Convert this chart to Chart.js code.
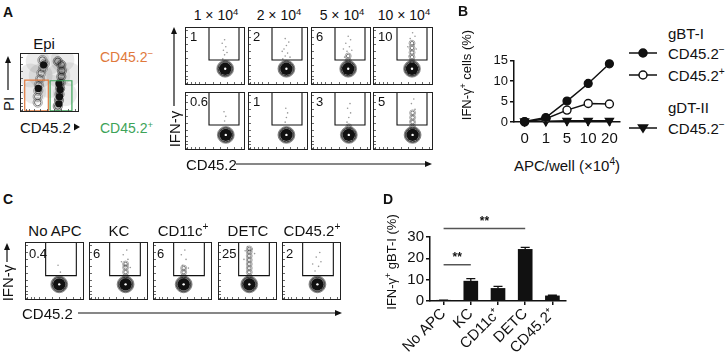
<!DOCTYPE html>
<html><head><meta charset="utf-8">
<script src="https://cdn.jsdelivr.net/npm/chart.js@4.4.1/dist/chart.umd.min.js"></script>
<style>
body{margin:0;background:#fff;}
#root{position:relative;width:728px;height:362px;overflow:hidden;font-family:"Liberation Sans",Arial,sans-serif;color:#111;background:#fff;}
.t{position:absolute;white-space:nowrap;line-height:1;}
canvas{position:absolute;}
svg{position:absolute;left:0;top:0;}
</style></head>
<body><div id="root"></div>
<script>
// ---------------- DATA ----------------
// Panel A
const aHeaders = ['1', '2', '5', '10'];          // × 10^4 APC per well
const aPctNeg = ['1', '2', '6', '10'];            // CD45.2− row gate %
const aPctPos = ['0.6', '1', '3', '5'];           // CD45.2+ row gate %
const aCoreXNeg = [67, 64, 62, 65];
const aCoreXPos = [68, 64, 63, 66];
const aTailNeg = [[], [], [42, 50], [40, 48, 56, 64, 72]];
const aTailPos = [[], [], [40], [40, 48, 56, 64]];
const aDotsNeg = [
  [[63,45],[66,52],[64,60],[68,66],[62,72],[66,78],[70,56]],
  [[58,45],[62,50],[66,55],[60,62],[64,68],[68,74],[62,80],[57,58],[70,48]],
  [[56,48],[60,58],[64,66],[58,72],[66,78],[62,84],[54,62],[68,60]],
  [[60,50],[64,60],[68,70],[62,80],[70,84],[58,66],[66,90],[72,62]]
];
const aDotsPos = [
  [[66,50],[68,58],[65,66]],
  [[62,48],[64,56],[66,64],[63,72]],
  [[60,48],[63,56],[66,64],[61,72],[65,80]],
  [[62,50],[66,60],[70,70],[64,80],[68,88]]
];
const aGate = [40, 90, 43];                       // x0, x1, y0 (to top)
const epiCloud = [[35,62],[65,62],[50,84],[24,34],[76,30],[50,44],[18,62],[84,64],[30,86],[72,88]];
const epiLeft = [[30,16],[30,26],[31,36],[32,46],[34,56],[36,66],[39,74],[42,82],[38,88]];
const epiRight = [[64,10],[66,20],[67,30],[68,40],[69,50],[70,60],[71,70],[70,80],[64,86]];
const epiDark = [[40,80],[66,14],[67,26],[68,38],[66,48],[31,40]];
const epiOrangeGate = [8, 48, 2, 54];
const epiGreenGate = [51, 88, 2, 53];
const facsTickValues = [4, 10, 16, 24, 34, 46, 58, 70, 82, 94];

// Panel B
const bCategories = ['0', '1', '5', '10', '20'];
const bGbtNeg = [0.1, 1.1, 5.1, 9.4, 14.2];
const bGbtPos = [0.0, 0.8, 2.9, 4.5, 4.4];
const bGdtNeg = [0.2, 0.2, 0.3, 0.3, 0.3];
const bYTicks = [0, 5, 10, 15];

// Panel C
const cTitles = ['No APC', 'KC', 'CD11c+', 'DETC', 'CD45.2+'];
const cPct = ['0.4', '6', '6', '25', '2'];
const cCoreX = [58, 62, 52, 53, 60];
const cTail = [[], [40, 48, 56, 62], [40, 48, 55], [40, 48, 55, 62, 69, 76, 83, 88], []];
const cDots = [
  [[60,48],[56,60]],
  [[60,60],[66,70],[58,78],[64,86],[70,56],[55,66]],
  [[50,60],[56,70],[48,78],[54,86],[60,55]],
  [[46,85],[58,88],[50,92],[62,80],[44,70]],
  [[56,50],[62,58],[66,66],[58,74],[64,82],[52,62]]
];
const cGate = [35, 87, 42];

// Panel D
const dCategories = ['No APC', 'KC', 'CD11c⁺', 'DETC', 'CD45.2⁺'];
const dMeans = [0.3, 9.3, 5.9, 24.2, 2.4];
const dErrors = [0.1, 1.2, 1.0, 0.9, 0.3];
const dYTicks = [0, 10, 20, 30];
const dSig = [[0, 1, 17, '**'], [0, 3, 34, '**']];

// ---------------- HELPERS ----------------
const root = document.getElementById('root');
Chart.defaults.font.family = '"Liberation Sans", Arial, sans-serif';
Chart.defaults.color = '#111';
const sup = s => `<span style="font-size:0.68em;vertical-align:0.55em;line-height:0">${s}</span>`;
function T(html, x, y, o = {}) {
  const d = document.createElement('div');
  d.className = 't';
  d.innerHTML = html;
  d.style.fontSize = (o.size || 14) + 'px';
  if (o.bold) d.style.fontWeight = 'bold';
  if (o.color) d.style.color = o.color;
  d.style.left = x + 'px'; d.style.top = y + 'px';
  let tr = o.left ? 'translate(0,-50%)' : 'translate(-50%,-50%)';
  if (o.rot) tr += ' rotate(-90deg)';
  d.style.transform = tr;
  root.appendChild(d);
}
function mk(l, t, w, h) {
  const c = document.createElement('canvas');
  c.width = w; c.height = h;
  c.style.left = l + 'px'; c.style.top = t + 'px';
  c.style.width = w + 'px'; c.style.height = h + 'px';
  root.appendChild(c);
  return c;
}
const P = a => a.map(p => ({x: p[0], y: p[1]}));
const framePlugin = {
  id: 'frame',
  afterDraw(chart) {
    const a = chart.chartArea, ctx = chart.ctx;
    const sx = chart.scales.x, sy = chart.scales.y;
    ctx.save(); ctx.strokeStyle = '#222'; ctx.lineWidth = 1;
    ctx.strokeRect(a.left + 0.5, a.top + 0.5, a.width - 1, a.height - 1);
    ctx.lineWidth = 0.8; ctx.strokeStyle = '#444';
    ctx.beginPath();
    facsTickValues.forEach(v => {
      const px = Math.round(sx.getPixelForValue(v)) + 0.5;
      ctx.moveTo(px, a.bottom - 1); ctx.lineTo(px, a.bottom - 3);
      const py = Math.round(sy.getPixelForValue(v)) + 0.5;
      ctx.moveTo(a.left + 1, py); ctx.lineTo(a.left + 3, py);
    });
    ctx.stroke();
    ctx.restore();
  }
};
const facsOpts = {
  responsive: false, animation: false, events: [], devicePixelRatio: 1,
  layout: {padding: 0, autoPadding: false},
  plugins: {legend: {display: false}, tooltip: {enabled: false}},
  scales: {x: {type: 'linear', min: 0, max: 100, display: false},
           y: {type: 'linear', min: 0, max: 100, display: false}}
};
const RINGS = [8.4, 7.6, 6.9];
const RING_COLORS = ['#777', '#444', '#222'];
const TAIL_RINGS = [3, 1.8];
function facs(l, t, w, h, cx, cy, tail, dots, gate) {
  const ds = [];
  ds.push({data: P([[gate[0],100],[gate[0],gate[2]],[gate[1],gate[2]],[gate[1],100]]),
    showLine: true, borderColor: '#111', borderWidth: 1.1, pointRadius: 0, order: 1});
  ds.push({data: [{x: cx, y: cy}], pointRadius: 1.2, pointBackgroundColor: '#fff', pointBorderWidth: 0, order: 2});
  ds.push({data: [{x: cx, y: cy}], pointRadius: 6.2, pointBackgroundColor: '#111', pointBorderWidth: 0, order: 3});
  ds.push({data: RINGS.map(() => ({x: cx, y: cy})), pointRadius: RINGS, pointBackgroundColor: 'rgba(0,0,0,0.1)',
    pointBorderColor: RING_COLORS, pointBorderWidth: 0.8, order: 4});
  const tp = tail.map(y => ({x: cx, y}));
  TAIL_RINGS.forEach((r, i) => ds.push({data: tp, pointRadius: r, pointBackgroundColor: 'rgba(0,0,0,0)',
    pointBorderColor: i ? '#444' : '#888', pointBorderWidth: 0.7, order: 5 + i}));
  ds.push({data: P(dots), pointRadius: 0.8, pointBackgroundColor: '#999', pointBorderWidth: 0, order: 10});
  new Chart(mk(l, t, w, h), {type: 'scatter', data: {datasets: ds}, options: facsOpts, plugins: [framePlugin]});
}

// ---------------- PANEL A ----------------
T('A', 3, 12, {bold: true, size: 14, left: true});
T('Epi', 44, 43, {size: 15});
T('PI', 8, 104, {size: 15, rot: true});
T('CD45.2', 20, 127, {size: 15, left: true});
T('CD45.2' + sup('−'), 100, 57, {size: 14, left: true, color: '#E0793C'});
T('CD45.2' + sup('+'), 100, 128, {size: 14, left: true, color: '#3DA358'});

(function epi() {
  const ds = [];
  const rect = g => P([[g[0],g[2]],[g[1],g[2]],[g[1],g[3]],[g[0],g[3]],[g[0],g[2]]]);
  ds.push({data: rect(epiOrangeGate), showLine: true, borderColor: '#E0793C', borderWidth: 1.2, pointRadius: 0, order: 1});
  ds.push({data: rect(epiGreenGate), showLine: true, borderColor: '#3DA358', borderWidth: 1.2, pointRadius: 0, order: 1});
  ds.push({data: P(epiDark), pointRadius: 3.6, pointBackgroundColor: '#111', pointBorderWidth: 0, order: 2});
  [4.6, 3.2].forEach((r, i) => {
    ds.push({data: P(epiLeft), pointRadius: r, pointBackgroundColor: 'rgba(0,0,0,0)', pointBorderColor: i ? '#333' : '#777', pointBorderWidth: 0.7, order: 3 + i});
    ds.push({data: P(epiRight), pointRadius: r, pointBackgroundColor: 'rgba(0,0,0,0.12)', pointBorderColor: i ? '#222' : '#555', pointBorderWidth: 0.7, order: 3 + i});
  });
  ds.push({data: P(epiCloud), pointRadius: 12, pointBackgroundColor: 'rgba(0,0,0,0.08)', pointBorderWidth: 0, order: 20});
  new Chart(mk(20, 53, 59, 59), {type: 'scatter', data: {datasets: ds}, options: facsOpts, plugins: [framePlugin]});
})();

const aLefts = [185, 248, 311, 373];
aHeaders.forEach((h, i) => T(h + ' × 10' + sup('4'), aLefts[i] + 31, 15, {size: 14}));
aLefts.forEach((l, i) => {
  facs(l, 27, 60, 58, aCoreXNeg[i], 28, aTailNeg[i], aDotsNeg[i], aGate);
  facs(l, 92, 60, 58, aCoreXPos[i], 26, aTailPos[i], aDotsPos[i], aGate);
  T(aPctNeg[i], l + 5, 36, {size: 13, left: true});
  T(aPctPos[i], l + 5, 101, {size: 13, left: true});
});
T('IFN-γ', 174, 129, {size: 15, rot: true});
T('CD45.2', 186, 164, {size: 15, left: true});

// ---------------- PANEL B ----------------
T('B', 458, 11, {bold: true, size: 14, left: true});
T('IFN-γ' + sup('+') + ' cells (%)', 466, 75, {size: 13, rot: true});
T('APC/well (×10' + sup('4') + ')', 567, 165, {size: 15});
T('gBT-I', 668, 33, {size: 15, left: true});
T('CD45.2' + sup('−'), 668, 53, {size: 15, left: true});
T('CD45.2' + sup('+'), 668, 75, {size: 15, left: true});
T('gDT-II', 668, 107, {size: 15, left: true});
T('CD45.2' + sup('−'), 668, 128, {size: 15, left: true});

const tickOpts = extra => Object.assign({color: '#111', font: {size: 15}, padding: 2, autoSkip: false}, extra || {});
const gridOpts = {display: true, drawOnChartArea: false, drawTicks: true, tickLength: 4, color: '#111', lineWidth: 1.5};
const borderOpts = {color: '#111', width: 1.5};

new Chart(mk(470, 52, 160, 100), {
  type: 'line',
  data: {labels: bCategories, datasets: [
    {data: bGbtNeg, borderColor: '#111', borderWidth: 1.5, pointRadius: 4, pointBackgroundColor: '#111', pointBorderColor: '#111', pointBorderWidth: 1.2, clip: false},
    {data: bGbtPos, borderColor: '#111', borderWidth: 1.5, pointRadius: 4, pointBackgroundColor: '#fff', pointBorderColor: '#111', pointBorderWidth: 1.4, clip: false},
    {data: bGdtNeg, borderColor: '#111', borderWidth: 1.5, pointStyle: 'triangle', rotation: 180, pointRadius: 4.5, pointBackgroundColor: '#111', pointBorderColor: '#111', clip: false}
  ]},
  options: {
    responsive: false, animation: false, events: [], devicePixelRatio: 1,
    layout: {padding: {top: 5, right: 10, left: 0, bottom: 0}, autoPadding: false},
    plugins: {legend: {display: false}, tooltip: {enabled: false}},
    scales: {
      x: {offset: true, grid: gridOpts, border: borderOpts,
        ticks: tickOpts({padding: 4, maxRotation: 0}),
        afterFit: s => { s.height = 30; }},
      y: {min: bYTicks[0], max: bYTicks[bYTicks.length - 1], grid: gridOpts, border: borderOpts,
        ticks: tickOpts({count: bYTicks.length, font: {size: 13, lineHeight: 1}, autoSkipPadding: 0}),
        afterFit: s => { s.width = 44; }}
    }
  }
});

// ---------------- PANEL C ----------------
T('C', 3, 199, {bold: true, size: 14, left: true});
const cLefts = [25, 89, 153, 218, 282];
cLefts.forEach((l, i) => {
  const t = cTitles[i].replace('+', '');
  T(cTitles[i].endsWith('+') ? t + sup('+') : t, l + 30, 230, {size: 15});
  facs(l, 242, 59, 58, cCoreX[i], 27, cTail[i], cDots[i], cGate);
  T(cPct[i], l + 4, 253, {size: 13, left: true});
});
T('IFN-γ', 7, 283, {size: 15, rot: true});
T('CD45.2', 22, 313, {size: 15, left: true});

// ---------------- PANEL D ----------------
T('D', 383, 199, {bold: true, size: 14, left: true});
T('IFN-γ' + sup('+') + ' gBT-I (%)', 391, 262, {size: 13, rot: true});
const dPlugin = {
  id: 'dExtras',
  afterDatasetsDraw(chart) {
    const ctx = chart.ctx, y = chart.scales.y, x = chart.scales.x;
    const meta = chart.getDatasetMeta(0);
    ctx.save();
    ctx.strokeStyle = '#111'; ctx.lineWidth = 1.3;
    meta.data.forEach((bar, i) => {
      const top = y.getPixelForValue(dMeans[i] + dErrors[i]);
      ctx.beginPath();
      ctx.moveTo(bar.x, bar.y); ctx.lineTo(bar.x, top);
      ctx.moveTo(bar.x - 4.5, top); ctx.lineTo(bar.x + 4.5, top);
      ctx.stroke();
    });
    ctx.strokeStyle = '#555'; ctx.lineWidth = 1.5;
    ctx.fillStyle = '#111'; ctx.font = 'bold 12px "Liberation Sans", Arial';
    ctx.textAlign = 'center'; ctx.textBaseline = 'middle';
    dSig.forEach(([a, b, v, lab]) => {
      const py = y.getPixelForValue(v);
      const x0 = x.getPixelForValue(a), x1 = x.getPixelForValue(b);
      ctx.beginPath(); ctx.moveTo(x0, py); ctx.lineTo(x1, py); ctx.stroke();
      ctx.fillText(lab, (x0 + x1) / 2, py - 7);
    });
    ctx.restore();
  }
};
new Chart(mk(380, 215, 190, 147), {
  type: 'bar',
  data: {labels: dCategories, datasets: [{data: dMeans, backgroundColor: '#111', barThickness: 14}]},
  options: {
    responsive: false, animation: false, events: [], devicePixelRatio: 1,
    layout: {padding: {top: 22, right: 4, left: 0, bottom: 0}, autoPadding: false},
    plugins: {legend: {display: false}, tooltip: {enabled: false}},
    scales: {
      x: {grid: Object.assign({}, gridOpts, {offset: false}), border: borderOpts,
        ticks: tickOpts({padding: 0, minRotation: 45, maxRotation: 45}),
        afterFit: s => { s.height = 61; }},
      y: {min: dYTicks[0], max: dYTicks[dYTicks.length - 1], grid: gridOpts, border: borderOpts,
        ticks: tickOpts({count: dYTicks.length, font: {size: 15, lineHeight: 1}, autoSkipPadding: 0}),
        afterFit: s => { s.width = 50; }}
    }
  },
  plugins: [dPlugin]
});

// ---------------- DECORATIVE ARROWS & LEGEND KEYS ----------------
const svg = `<svg width="728" height="362" xmlns="http://www.w3.org/2000/svg">
<g stroke="#111" stroke-width="1.2" fill="#111">
<line x1="8" y1="90" x2="8" y2="62"/><polygon points="8,56 5,63 11,63" stroke="none"/>
<polygon points="74,123.5 74,130.5 80,127" stroke="none"/>
<line x1="174" y1="106" x2="174" y2="33"/><polygon points="174,27 171,34 177,34" stroke="none"/>
<line x1="236" y1="164" x2="426" y2="164"/><polygon points="432,164 425,161 425,167" stroke="none"/>
<line x1="7" y1="262" x2="7" y2="249"/><polygon points="7,243 4,250 10,250" stroke="none"/>
<line x1="78" y1="313" x2="336" y2="313"/><polygon points="342,313 335,310 335,316" stroke="none"/>
</g>
<g stroke="#111" stroke-width="1.5">
<line x1="629" y1="53" x2="657" y2="53"/><circle cx="643" cy="53" r="4" fill="#111"/>
<line x1="629" y1="75" x2="657" y2="75"/><circle cx="643" cy="75" r="4" fill="#fff"/>
<line x1="629" y1="128" x2="657" y2="128"/><polygon points="638.5,125 647.5,125 643,132" fill="#111"/>
</g></svg>`;
root.insertAdjacentHTML('afterbegin', svg);
</script>
</body></html>
